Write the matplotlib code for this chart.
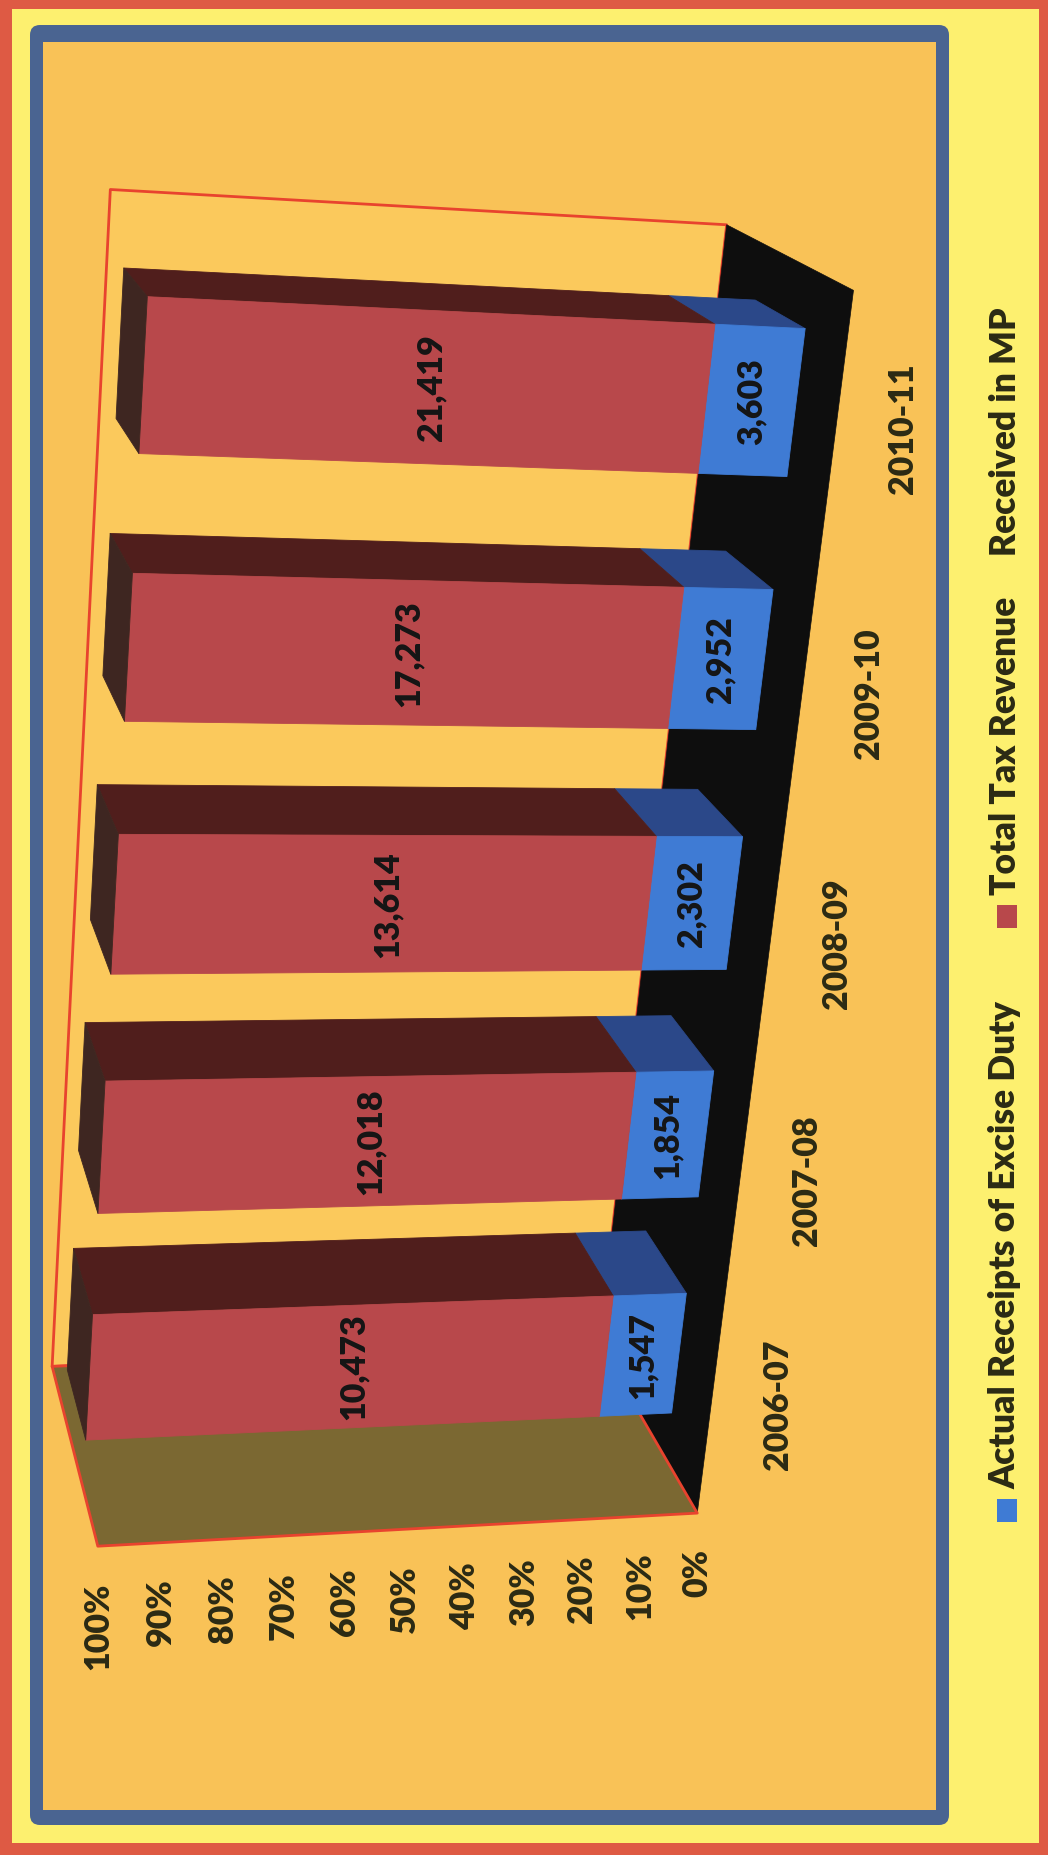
import numpy as np
import matplotlib
matplotlib.use("Agg")
import matplotlib.pyplot as plt
from matplotlib import font_manager
from matplotlib.patches import Polygon, Rectangle, FancyBboxPatch

# heaviest available Lato cut up to "heavy", falling back to plain bold
_lato_weights = sorted({f.weight for f in font_manager.fontManager.ttflist
                        if f.name == "Lato" and isinstance(f.weight, int)})
WEIGHT = 800 if 800 in _lato_weights else "bold"
plt.rcParams["font.family"] = ["Lato", "DejaVu Sans"]
plt.rcParams["font.weight"] = WEIGHT

# ---- data -------------------------------------------------------------
years = ["2006-07", "2007-08", "2008-09", "2009-10", "2010-11"]
excise_receipts = [1547, 1854, 2302, 2952, 3603]
total_tax_revenue = [10473, 12018, 13614, 17273, 21419]
pct_ticks = [0, 10, 20, 30, 40, 50, 60, 70, 80, 90, 100]
pct_labels = [f"{p}%" for p in pct_ticks]
series_names = ["Actual Receipts of Excise Duty", "Total Tax Revenue     Received in MP"]

# ---- style ------------------------------------------------------------
C_BLUE, C_BLUE_SIDE = "#3F7BD4", "#2B4889"
C_RED, C_RED_SIDE, C_RED_TOP = "#B8484B", "#501E1C", "#3E2621"
C_WALL, C_SIDEWALL, C_FLOOR = "#FBC95C", "#7B6832", "#0E0E0E"
C_OUTLINE = "#E8432E"
C_TEXT, C_DATA = "#2B2A14", "#151515"
FS = 24.5
FS_LEGEND = 25.5

BAR_HALF = 0.28          # half bar width, in category units
DEPTH = (0.30, 0.70)     # bar front/back position inside the plot box depth

# Perspective camera of the 3-D plot box, rotated a quarter turn:
# world (category, share 0..1, depth 0..1) -> canvas pixels
VIEW = np.array([[9.3935, -604.3201, -38.1929, 697.2647],
                 [-251.9822, -43.6808, -34.8045, 1513.1058],
                 [-0.025598, -0.049649, 0.099597, 1.0]])


def project(pts):
    pts = np.atleast_2d(np.asarray(pts, float))
    h = np.c_[pts, np.ones(len(pts))] @ VIEW.T
    return h[:, :2] / h[:, 2:3]


def face(ax, pts, fc, ec=None, lw=0.6, z=2):
    ax.add_patch(Polygon(project(pts), closed=True, facecolor=fc,
                         edgecolor=ec if ec else fc, lw=lw, zorder=z,
                         joinstyle="round"))


W, H = 1048, 1855
fig = plt.figure(figsize=(W / 100, H / 100), dpi=100)
fig.patch.set_facecolor("#DE5A44")
ax = fig.add_axes([0, 0, 1, 1])
ax.set_xlim(0, W)
ax.set_ylim(H, 0)
ax.axis("off")

# ---- frames -----------------------------------------------------------
ax.add_patch(Rectangle((12, 9), 1027, 1834, facecolor="#FDF06F", lw=0, zorder=0))
ax.add_patch(FancyBboxPatch((30, 25), 919, 1800, boxstyle="round,pad=0,rounding_size=10",
                            facecolor="#4A6491", lw=0, zorder=0))
ax.add_patch(Rectangle((43, 42), 893, 1768, facecolor="#F9C257", lw=0, zorder=0))

n = len(years)
share_ex = np.array(excise_receipts) / (np.array(excise_receipts) + np.array(total_tax_revenue))

# ---- plot box: back wall, floor, side wall ----------------------------
face(ax, [(0, 0, 1), (0, 1, 1), (n, 1, 1), (n, 0, 1)], C_WALL, C_OUTLINE, lw=2.0, z=1)
face(ax, [(0, 0, 0), (n, 0, 0), (n, 0, 1), (0, 0, 1)], C_FLOOR, C_FLOOR, lw=0.5, z=1.1)
face(ax, [(0, 0, 0), (0, 1, 0), (0, 1, 1), (0, 0, 1)], C_SIDEWALL, C_OUTLINE, lw=2.0, z=1.2)

# ---- stacked 100% columns ---------------------------------------------
z0, z1 = DEPTH
for i in range(n):
    xl, xh = i + 0.5 - BAR_HALF, i + 0.5 + BAR_HALF
    segs = [(0.0, share_ex[i], C_BLUE, C_BLUE_SIDE, None),
            (share_ex[i], 1.0, C_RED, C_RED_SIDE, C_RED_TOP)]
    for k, (y0, y1, cf, cs, ct) in enumerate(segs):
        zz = 2 + i * 0.1 + k * 0.01
        face(ax, [(xh, y0, z0), (xh, y1, z0), (xh, y1, z1), (xh, y0, z1)], cs, z=zz)
        face(ax, [(xl, y0, z0), (xh, y0, z0), (xh, y1, z0), (xl, y1, z0)], cf, z=zz + 0.001)
        if ct:
            face(ax, [(xl, y1, z0), (xh, y1, z0), (xh, y1, z1), (xl, y1, z1)], ct, z=zz + 0.002)

    vals = [excise_receipts[i], total_tax_revenue[i]]
    mids = [share_ex[i] / 2, share_ex[i] + (1 - share_ex[i]) / 2]
    for v, m in zip(vals, mids):
        px, py = project([(i + 0.5, m, z0)])[0]
        ax.text(px, py, f"{v:,}", rotation=90, ha="center", va="center",
                fontsize=FS, color=C_DATA, zorder=5)

# ---- category axis along the front edge of the floor -------------------
for i, lab in enumerate(years):
    px, py = project([(i + 0.5, 0, 0)])[0]
    ax.annotate(lab, (px, py), xytext=(67, 0), textcoords="offset pixels",
                rotation=90, ha="center", va="center", fontsize=FS, color=C_TEXT, zorder=5)

# ---- value axis along the front edge of the side wall ------------------
for p, lab in zip(pct_ticks, pct_labels):
    px, py = project([(0, p / 100, 0)])[0]
    ax.annotate(lab, (px, py), xytext=(0, -36), textcoords="offset pixels",
                rotation=90, ha="center", va="top", fontsize=FS, color=C_TEXT, zorder=5)

# ---- legend (reads bottom to top along the right strip) ---------------
legend_items = [(series_names[0], C_BLUE, 1522), (series_names[1], C_RED, 928)]
for name, col, y_start in legend_items:
    ax.add_patch(Rectangle((997, y_start - 23), 20, 23, facecolor=col, lw=0, zorder=5))
    ax.text(1005, y_start - 33, name, rotation=90, ha="center", va="bottom",
            fontsize=FS_LEGEND, color=C_TEXT, zorder=5)

fig.savefig("out.png", dpi=100, facecolor=fig.get_facecolor())
